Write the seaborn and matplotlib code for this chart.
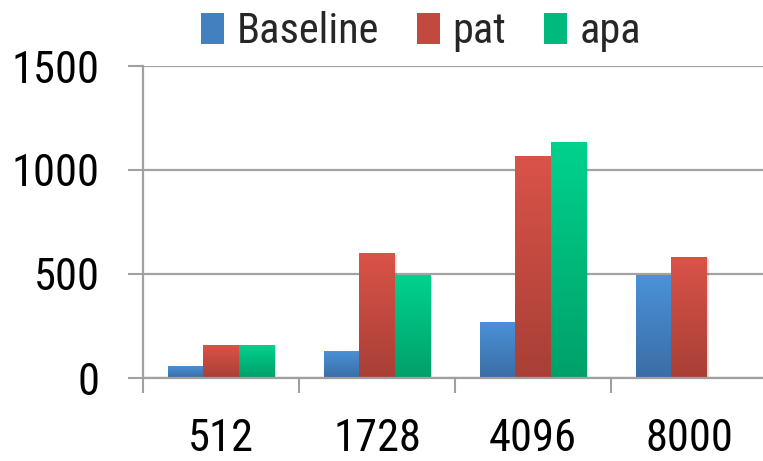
import numpy as np
import pandas as pd
import matplotlib
matplotlib.use("Agg")
import matplotlib.pyplot as plt
from matplotlib import font_manager
from matplotlib.patches import Patch
from matplotlib.colors import to_rgb
import matplotlib.patheffects as pe
import seaborn as sns

# Data
sizes = ["512", "1728", "4096", "8000"]
series = ["Baseline", "pat", "apa"]
baseline = [60, 130, 270, 495]
pat = [160, 600, 1068, 582]
apa = [160, 495, 1135, np.nan]
y_ticks = [0, 500, 1000, 1500]

# Gradient colours per series: (top, bottom)
grad = {
    "Baseline": ("#4b92d8", "#3a6da6"),
    "pat": ("#da5349", "#a83f36"),
    "apa": ("#00d28d", "#00a06a"),
}
mid = {k: tuple((np.array(to_rgb(a)) + np.array(to_rgb(b))) / 2) for k, (a, b) in grad.items()}

df = pd.DataFrame({
    "size": np.repeat(sizes, len(series)),
    "series": series * len(sizes),
    "value": [v for trio in zip(baseline, pat, apa) for v in trio],
})

sns.set_theme(style="white")
names = {f.name for f in font_manager.fontManager.ttflist}
narrow = None
for cand in ["Liberation Sans Narrow", "Arial Narrow", "Roboto Condensed"]:
    if cand in names:
        narrow = cand
        break
family = narrow or "Liberation Sans"
fsize = 32 if narrow else 29.5
lsize = 30.5 if narrow else 28
plt.rcParams["font.family"] = [family, "DejaVu Sans"]

W, H = 763, 461
fig = plt.figure(figsize=(W / 100, H / 100), dpi=100)
fig.patch.set_facecolor("white")
ax = fig.add_axes([143 / W, (H - 378) / H, 624 / W, 312 / H])

sns.barplot(data=df, x="size", y="value", hue="series", order=sizes,
            hue_order=series, palette=mid, width=0.675, ax=ax,
            legend=False, saturation=1, zorder=3)

# Paint each bar with a vertical gradient, lighter at the top
n_cat = len(sizes)
for i, p in enumerate(list(ax.patches)):
    h = p.get_height()
    if not np.isfinite(h) or h <= 0:
        continue
    s = series[i // n_cat]
    top, bot = np.array(to_rgb(grad[s][0])), np.array(to_rgb(grad[s][1]))
    t = np.linspace(0, 1, 128)[:, None]
    img = (top * (1 - t) + bot * t)[:, None, :]
    x0 = p.get_x()
    w = p.get_width()
    p.set_edgecolor("none")
    p.set_path_effects([pe.SimplePatchShadow(offset=(2, -1), shadow_rgbFace="#000000", alpha=0.12),
                        pe.Normal()])
    im = ax.imshow(img, extent=[x0, x0 + w, 0, h], aspect="auto",
                   origin="upper", zorder=3.5, interpolation="bilinear")
    im.set_clip_path(p)

ax.set_xlim(-0.5, 3.5)
ax.set_ylim(0, 1500)
ax.set_yticks(y_ticks)
ax.set_yticklabels([str(v) for v in y_ticks])

# Category boundaries as major ticks, labels at centres as minor ticks
ax.set_xticks(np.arange(-0.5, n_cat, 1.0))
ax.set_xticklabels([""] * (n_cat + 1))
ax.set_xticks(np.arange(n_cat), minor=True)
ax.set_xticklabels(sizes, minor=True)

axis_col = "#a0a0a0"
ax.tick_params(axis="x", which="major", direction="out", length=11, width=1.5,
               color=axis_col, bottom=True)
ax.tick_params(axis="x", which="minor", length=0, pad=29, labelsize=fsize, labelcolor="black")
ax.tick_params(axis="y", direction="out", length=11, width=1.5, color=axis_col,
               left=True, pad=20, labelsize=fsize, labelcolor="black")

ax.set_xlabel("")
ax.set_ylabel("")
for side in ["top", "right"]:
    ax.spines[side].set_visible(False)
for side in ["left", "bottom"]:
    ax.spines[side].set_color(axis_col)
    ax.spines[side].set_linewidth(1.6)
    ax.spines[side].set_zorder(5)

ax.yaxis.grid(True, color="#a3a3a3", linewidth=1.6, zorder=0)
ax.xaxis.grid(False)
ax.set_axisbelow(True)

handles = [Patch(facecolor=mid[s], edgecolor="none", label=s) for s in series]
fig.legend(handles=handles, loc="upper left", bbox_to_anchor=(201 / W, 1 - 11 / H),
           ncol=3, frameon=False, fontsize=lsize, handlelength=0.55, handleheight=0.75,
           handletextpad=0.3, columnspacing=0.88, borderpad=0, borderaxespad=0)

fig.savefig("out.png", dpi=100, facecolor="white")
